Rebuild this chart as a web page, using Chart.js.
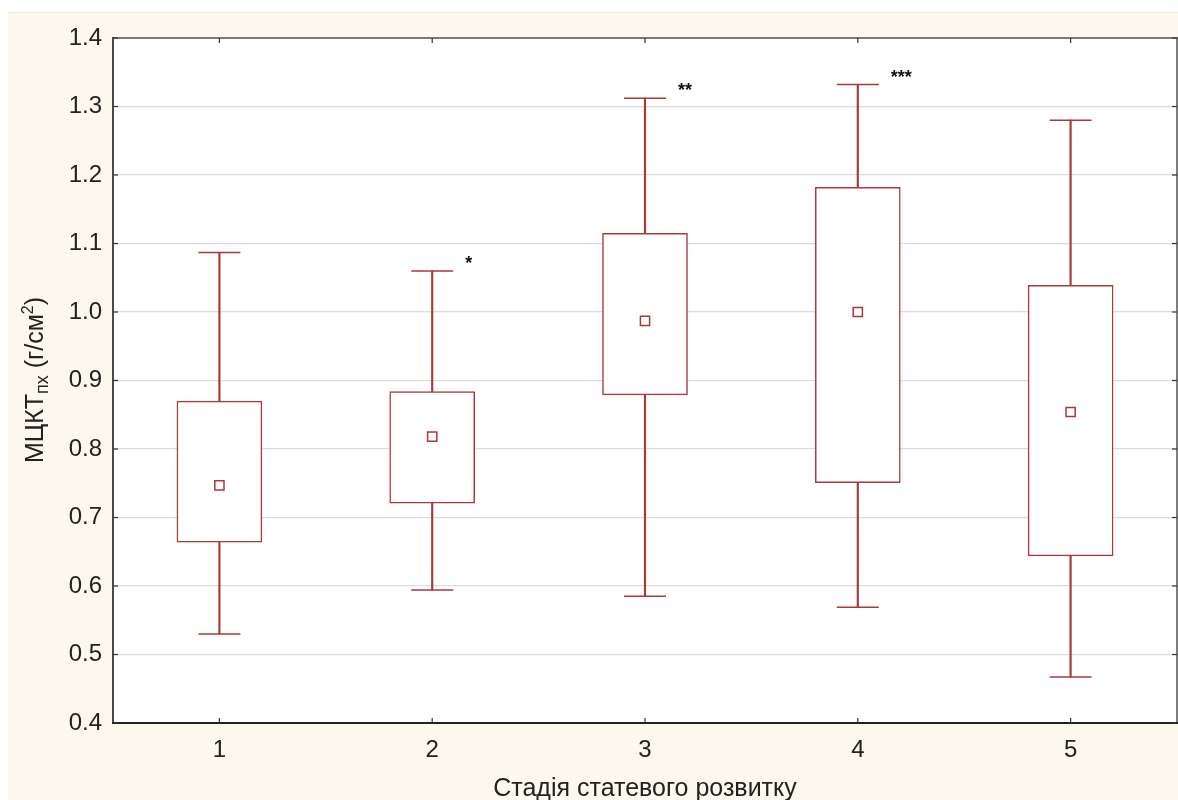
<!DOCTYPE html>
<html>
<head>
<meta charset="utf-8">
<script src="https://cdn.jsdelivr.net/npm/chart.js@4.4.1/dist/chart.umd.min.js"></script>
<style>
  html, body { margin: 0; padding: 0; background: #ffffff; overflow: hidden; }
  #wrap { position: absolute; left: 8px; top: 12px; width: 1170px; height: 788px; background: #fdf8ee; border-top: 1px solid #f1ebdc; box-sizing: border-box; }
  canvas { position: absolute; left: 0; top: -1px; }
</style>
</head>
<body>
<div id="wrap"><canvas id="c" width="1170" height="788"></canvas></div>
<script>
// ---- data ----
const categories = ['1', '2', '3', '4', '5'];
const whiskerMin = [0.530, 0.594, 0.585, 0.569, 0.467];
const boxLow     = [0.664, 0.721, 0.879, 0.751, 0.644];
const meanValues = [0.747, 0.818, 0.987, 1.000, 0.854];
const boxHigh    = [0.870, 0.884, 1.115, 1.182, 1.039];
const whiskerMax = [1.087, 1.060, 1.312, 1.332, 1.280];
const significance = ['', '*', '**', '***', ''];
const yTicks = [0.4, 0.5, 0.6, 0.7, 0.8, 0.9, 1.0, 1.1, 1.2, 1.3, 1.4];
const xTitle = 'Стадія статевого розвитку';
const yTitleParts = [
  { text: 'МЦКТ', kind: 'main' },
  { text: 'пх', kind: 'sub' },
  { text: ' (г/см', kind: 'main' },
  { text: '2', kind: 'sup' },
  { text: ')', kind: 'main' }
];

const RED = '#a83a3a';
const FONT = '"Liberation Sans", Arial, sans-serif';
const TEXT = '#222222';

const framePlugin = {
  id: 'frame',
  beforeDraw(chart) {
    const { ctx, chartArea: a } = chart;
    ctx.save();
    ctx.fillStyle = '#ffffff';
    ctx.fillRect(a.left, a.top, a.right - a.left, a.bottom - a.top);
    ctx.restore();
  },
  afterDraw(chart) {
    const { ctx, chartArea: a, scales } = chart;
    ctx.save();
    // frame
    ctx.lineCap = 'square';
    ctx.strokeStyle = '#555555'; ctx.lineWidth = 1.5;
    ctx.beginPath(); ctx.moveTo(a.left, a.top); ctx.lineTo(a.right, a.top); ctx.stroke();
    ctx.beginPath(); ctx.moveTo(a.right, a.top); ctx.lineTo(a.right, a.bottom); ctx.stroke();
    ctx.strokeStyle = '#4a4a4a'; ctx.lineWidth = 2;
    ctx.beginPath(); ctx.moveTo(a.left, a.top); ctx.lineTo(a.left, a.bottom); ctx.stroke();
    ctx.strokeStyle = '#222222';
    ctx.beginPath(); ctx.moveTo(a.left, a.bottom); ctx.lineTo(a.right, a.bottom); ctx.stroke();
    // inward ticks
    ctx.lineWidth = 1.2; ctx.strokeStyle = '#333333'; ctx.lineCap = 'butt';
    scales.y.ticks.forEach((t, i) => {
      const y = scales.y.getPixelForTick(i);
      ctx.beginPath(); ctx.moveTo(a.left, y); ctx.lineTo(a.left + 5, y); ctx.stroke();
      ctx.beginPath(); ctx.moveTo(a.right, y); ctx.lineTo(a.right - 5, y); ctx.stroke();
    });
    scales.x.ticks.forEach((t, i) => {
      const x = scales.x.getPixelForTick(i);
      ctx.beginPath(); ctx.moveTo(x, a.bottom); ctx.lineTo(x, a.bottom - 5); ctx.stroke();
      ctx.beginPath(); ctx.moveTo(x, a.top); ctx.lineTo(x, a.top + 5); ctx.stroke();
    });
    // significance stars
    ctx.fillStyle = '#111111';
    ctx.font = 'bold 18px ' + FONT;
    ctx.textAlign = 'left'; ctx.textBaseline = 'middle';
    significance.forEach((s, i) => {
      if (!s) return;
      const x = scales.x.getPixelForValue(i);
      const y = scales.y.getPixelForValue(whiskerMax[i]);
      ctx.fillText(s, x + 33, y - 7);
    });
    // y-axis title with sub/superscript
    const sizes = { main: 25, sub: 18, sup: 16 };
    const shifts = { main: 0, sub: 5, sup: -10 };
    let total = 0;
    yTitleParts.forEach(p => { ctx.font = sizes[p.kind] + 'px ' + FONT; p.w = ctx.measureText(p.text).width; total += p.w; });
    ctx.translate(35, (a.top + a.bottom) / 2 - 0.5);
    ctx.rotate(-Math.PI / 2);
    ctx.fillStyle = TEXT; ctx.textBaseline = 'alphabetic'; ctx.textAlign = 'left';
    let cx = -total / 2;
    yTitleParts.forEach(p => {
      ctx.font = sizes[p.kind] + 'px ' + FONT;
      ctx.fillText(p.text, cx, shifts[p.kind]);
      cx += p.w;
    });
    ctx.restore();
  }
};

new Chart(document.getElementById('c'), {
  type: 'bar',
  data: {
    labels: categories,
    datasets: [
      {
        type: 'line', label: 'mean', data: meanValues, showLine: false,
        pointStyle: 'rect', pointRadius: 6.5, pointHoverRadius: 6.5,
        pointBackgroundColor: '#ffffff', pointBorderColor: RED, pointBorderWidth: 1.5
      },
      {
        label: 'box', data: categories.map((c, i) => [boxLow[i], boxHigh[i]]),
        backgroundColor: '#ffffff', borderColor: RED, borderWidth: 1.5, borderSkipped: false,
        barThickness: 85, grouped: false
      },
      {
        type: 'line', label: 'max', data: whiskerMax, showLine: false,
        pointStyle: 'line', pointRadius: 21, pointHoverRadius: 21,
        pointBorderColor: RED, pointBorderWidth: 1.5
      },
      {
        type: 'line', label: 'min', data: whiskerMin, showLine: false,
        pointStyle: 'line', pointRadius: 21, pointHoverRadius: 21,
        pointBorderColor: RED, pointBorderWidth: 1.5
      },
      {
        label: 'whisker', data: categories.map((c, i) => [whiskerMin[i], whiskerMax[i]]),
        backgroundColor: RED, borderWidth: 0, barThickness: 1.5, grouped: false
      }
    ]
  },
  options: {
    responsive: false,
    animation: false,
    events: [],
    layout: { autoPadding: false, padding: { left: 0, top: 26, right: 1, bottom: 0 } },
    plugins: { legend: { display: false }, tooltip: { enabled: false } },
    scales: {
      x: {
        type: 'category', offset: true,
        grid: { display: false }, border: { display: false },
        ticks: { font: { family: FONT, size: 24 }, color: TEXT, padding: 5, maxRotation: 0 },
        title: { display: true, text: xTitle, font: { family: FONT, size: 25 }, color: TEXT, padding: { top: 0, bottom: -4 } },
        afterFit(s) { s.height = 77; s.paddingLeft = 0; s.paddingRight = 0; }
      },
      y: {
        min: 0.4, max: 1.4,
        afterBuildTicks(s) { s.ticks = yTicks.map(v => ({ value: v })); },
        grid: { color: '#dcdcdc', lineWidth: 1.2, drawTicks: false },
        border: { display: false },
        ticks: { font: { family: FONT, size: 24 }, color: TEXT, padding: 11, callback: v => Number(v).toFixed(1) },
        afterFit(s) { s.width = 105; s.paddingTop = 0; s.paddingBottom = 0; }
      }
    }
  },
  plugins: [framePlugin]
});
</script>
</body>
</html>
